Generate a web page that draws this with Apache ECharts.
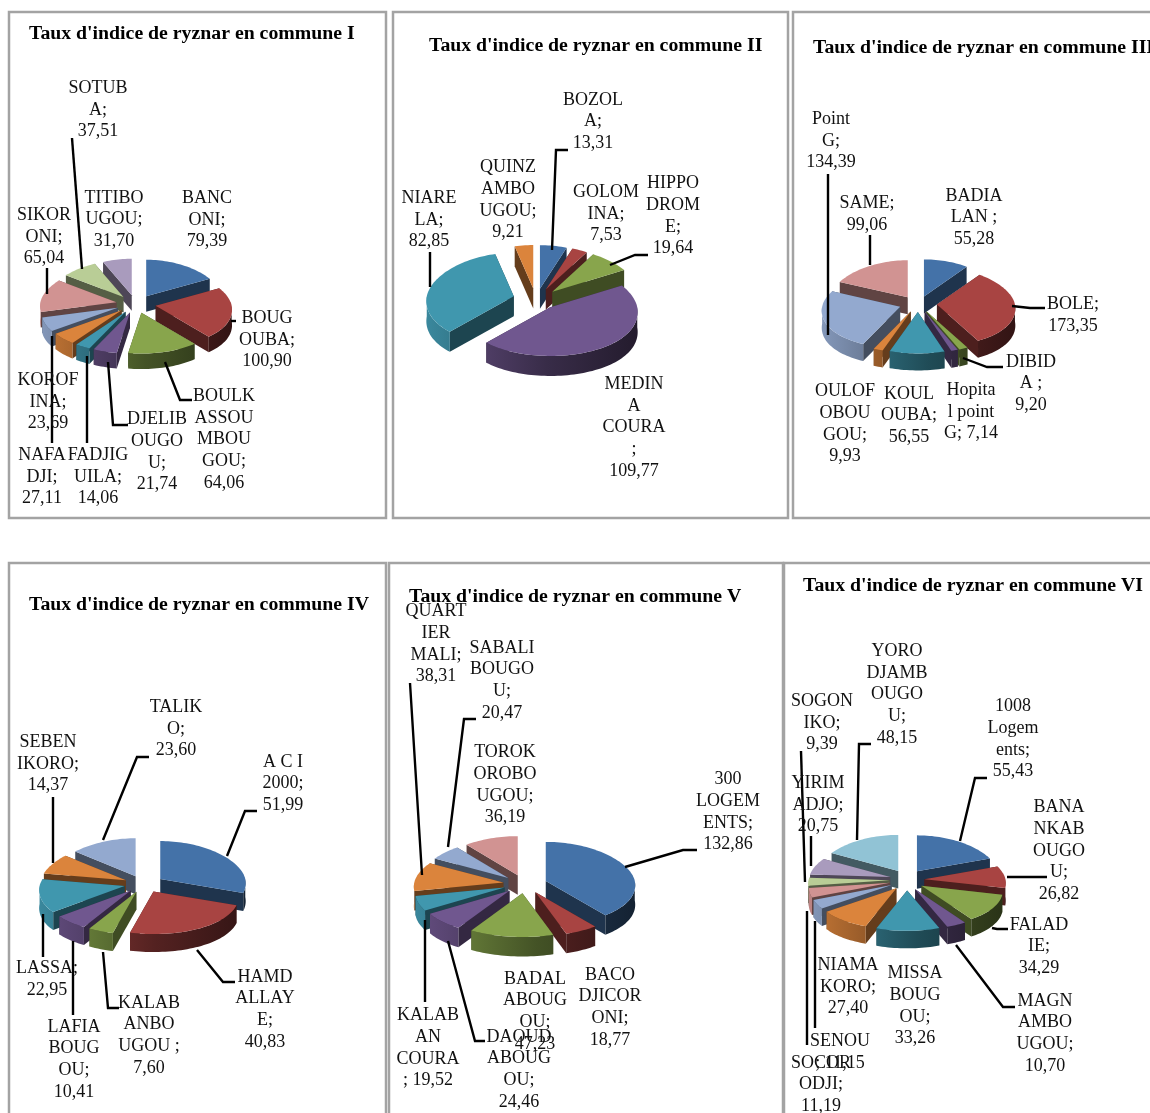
<!DOCTYPE html>
<html>
<head>
<meta charset="utf-8">
<style>html,body{margin:0;padding:0;background:#fff}#chart{width:1150px;height:1113px}</style>
<script src="https://cdn.jsdelivr.net/npm/echarts@6/dist/echarts.min.js"></script>
</head>
<body>
<div id="chart"></div>
<script>
// Ryznar index by neighbourhood, one exploded pseudo-3D pie per commune.
const communeITitle = "Taux d'indice de ryznar en commune I";
const communeIValues = [79.39, 100.90, 64.06, 21.74, 14.06, 23.69, 27.11, 65.04, 37.51, 31.70];
const communeILabels = ["BANC\nONI;\n", "BOUG\nOUBA;\n", "BOULK\nASSOU\nMBOU\nGOU;\n", "DJELIB\nOUGO\nU;\n", "FADJIG\nUILA;\n", "KOROF\nINA;\n", "NAFA\nDJI;\n", "SIKOR\nONI;\n", "SOTUB\nA;\n", "TITIBO\nUGOU;\n"];

const communeIITitle = "Taux d'indice de ryznar en commune II";
const communeIIValues = [13.31, 7.53, 19.64, 109.77, 82.85, 9.21];
const communeIILabels = ["BOZOL\nA;\n", "GOLOM\nINA;\n", "HIPPO\nDROM\nE;\n", "MEDIN\nA\nCOURA\n;\n", "NIARE\nLA;\n", "QUINZ\nAMBO\nUGOU;\n"];

const communeIIITitle = "Taux d'indice de ryznar en commune III";
const communeIIIValues = [55.28, 173.35, 9.20, 7.14, 56.55, 9.93, 134.39, 99.06];
const communeIIILabels = ["BADIA\nLAN ;\n", "BOLE;\n", "DIBID\nA ;\n", "Hopita\nl point\nG; ", "KOUL\nOUBA;\n", "OULOF\nOBOU\nGOU;\n", "Point\nG;\n", "SAME;\n"];

const communeIVTitle = "Taux d'indice de ryznar en commune IV";
const communeIVValues = [51.99, 40.83, 7.60, 10.41, 22.95, 14.37, 23.60];
const communeIVLabels = ["A C I\n2000;\n", "HAMD\nALLAY\nE;\n", "KALAB\nANBO\nUGOU ;\n", "LAFIA\nBOUG\nOU;\n", "LASSA;\n", "SEBEN\nIKORO;\n", "TALIK\nO;\n"];

const communeVTitle = "Taux d'indice de ryznar en commune V";
const communeVValues = [132.86, 18.77, 47.23, 24.46, 19.52, 38.31, 20.47, 36.19];
const communeVLabels = ["300\nLOGEM\nENTS;\n", "BACO\nDJICOR\nONI;\n", "BADAL\nABOUG\nOU;\n", "DAOUD\nABOUG\nOU;\n", "KALAB\nAN\nCOURA\n; ", "QUART\nIER\nMALI;\n", "SABALI\nBOUGO\nU;\n", "TOROK\nOROBO\nUGOU;\n"];

const communeVITitle = "Taux d'indice de ryznar en commune VI";
const communeVIValues = [55.43, 26.82, 34.29, 10.70, 33.26, 27.40, 11.15, 11.19, 9.39, 20.75, 48.15];
const communeVILabels = ["1008\nLogem\nents;\n", "BANA\nNKAB\nOUGO\nU;\n", "FALAD\nIE;\n", "MAGN\nAMBO\nUGOU;\n", "MISSA\nBOUG\nOU;\n", "NIAMA\nKORO;\n", "SENOU\n; ", "SOCOR\nODJI;\n", "SOGON\nIKO;\n", "YIRIM\nADJO;\n", "YORO\nDJAMB\nOUGO\nU;\n"];

const palette = ['#4472a8', '#a84442', '#88a54c', '#70578f', '#4097ae', '#db843c', '#93a9cf', '#d19392', '#b9cd96', '#a99bbd', '#91c3d5'];

// Placement of each pie: centre, radii, wall depth, slice offset, panel frame, title anchor,
// label centres and leader polylines (keyed by slice index).
const pies = [
  { title: communeITitle, values: communeIValues, labels: communeILabels,
    cx: 136, cy: 304, rx: 76, ry: 36.5, depth: 15.5, ex: 20, ey: 9,
    frame: [9, 12, 377, 506], titleAt: [29, 33],
    spots: [[207,220],[267,340],[224,439.5],[157,452],[98,477],[48,402],[42,477],[44,237],[98,110],[114,219.5]],
    leaders: { 1: [[231,321],[236,321]], 2: [[165,362],[180,400],[192,400]], 3: [[108,362],[113,425],[128,425]],
               4: [[87,356],[87,443]], 6: [[52,336],[52,443]], 7: [[47,268],[47,294]], 8: [[72,138],[82,269]] } },
  { title: communeIITitle, values: communeIIValues, labels: communeIILabels,
    cx: 536, cy: 299, rx: 87, ry: 43.5, depth: 20, ex: 23, ey: 10.5,
    frame: [393, 12, 395, 506], titleAt: [429, 45],
    spots: [[593,121.5],[606,214],[673,216],[634,427.5],[429,220],[508,200]],
    leaders: { 0: [[552,250],[556,150],[568,150]], 2: [[610,265],[635,255],[648,255]], 4: [[430,252],[430,287]] } },
  { title: communeIIITitle, values: communeIIIValues, labels: communeIIILabels,
    cx: 918, cy: 304, rx: 78, ry: 37, depth: 17, ex: 19, ey: 8,
    frame: [793, 12, 370, 506], titleAt: [813, 47],
    spots: [[974,217.5],[1073,315],[1031,383.5],[971,412],[909,415.5],[845,424],[831,141],[867,214.5]],
    leaders: { 1: [[1012,306],[1030,308],[1045,308]], 2: [[963,358],[987,367],[1003,367]],
               6: [[828,174],[828,335]], 7: [[870,235],[870,265]] } },
  { title: communeIVTitle, values: communeIVValues, labels: communeIVLabels,
    cx: 144, cy: 884, rx: 85, ry: 38, depth: 18, ex: 20, ey: 8.5,
    frame: [9, 563, 377, 570], titleAt: [29, 604],
    spots: [[283,783.5],[265,1009.5],[149,1035.5],[74,1059.5],[47,979],[48,764],[176,729]],
    leaders: { 0: [[227,856],[245,811],[257,811]], 1: [[197,950],[223,982],[235,982]], 2: [[103,952],[108,1008],[119,1008]],
               3: [[73,941],[73,1015]], 4: [[43,914],[43,957]], 5: [[53,797],[53,863]], 6: [[103,840],[137,757],[149,757]] } },
  { title: communeVTitle, values: communeVValues, labels: communeVLabels,
    cx: 525, cy: 884, rx: 89, ry: 39, depth: 19.5, ex: 22, ey: 9.4,
    frame: [389, 563, 394, 570], titleAt: [409, 596],
    spots: [[728,812],[610,1007.5],[535,1011.5],[519,1069.5],[428,1048],[436,644],[502,680.5],[505,785]],
    leaders: { 0: [[625,867],[683,850],[697,850]], 3: [[448,941],[475,1041],[485,1041]], 4: [[425,920],[425,1002]],
               5: [[410,683],[422,875]], 6: [[476,719],[464,719],[448,847]] } },
  { title: communeVITitle, values: communeVIValues, labels: communeVILabels,
    cx: 907, cy: 880, rx: 81, ry: 36, depth: 17.5, ex: 17.5, ey: 10.5,
    frame: [784, 563, 380, 570], titleAt: [803, 585],
    spots: [[1013,739],[1059,851],[1039,946.5],[1045,1033.5],[915,1006],[848,987],[840,1052],[821,1084.5],[822,723],[818,805],[897,694.5]],
    leaders: { 0: [[960,841],[975,778],[987,778]], 1: [[1007,877],[1047,877]], 2: [[992,928],[997,929],[1008,929]],
               3: [[956,945],[1003,1007],[1015,1007]], 6: [[815,921],[815,1028]], 7: [[807,911],[807,1045]],
               8: [[801,751],[805,882]], 9: [[811,836],[811,866]], 10: [[857,840],[859,744],[871,744]] } }
];

const LABEL_FONT = '"Liberation Serif", serif';
const rad = d => d * Math.PI / 180;
const formatValue = v => v.toFixed(2).replace('.', ',');

function shade(hex, f) {
  const n = parseInt(hex.slice(1), 16);
  const c = s => Math.round(((n >> s) & 255) * f);
  return 'rgb(' + c(16) + ',' + c(8) + ',' + c(0) + ')';
}

// Slices run clockwise from twelve o'clock; each one is pushed out along its mid-angle.
function sliceGeometry(pie) {
  const total = pie.values.reduce((a, b) => a + b, 0);
  let acc = 0;
  const slices = pie.values.map(v => {
    const a0 = acc / total * 360;
    acc += v;
    const a1 = acc / total * 360;
    const mid = rad((a0 + a1) / 2);
    const ax = pie.cx + pie.ex * Math.sin(mid);
    const ay = pie.cy - pie.ey * Math.cos(mid);
    return { a0, a1, ax, ay, sortY: ay - 0.5 * pie.ry * Math.cos(mid) };
  });
  // Farther slices paint first so nearer walls cover them.
  slices.map((s, i) => i).sort((p, q) => slices[p].sortY - slices[q].sortY)
    .forEach((i, rank) => { slices[i].rank = rank; });
  return slices;
}

// Rim of the tilted disc, with the near side drawn a little larger than the far side.
function rimPoint(pie, s, deg) {
  const sin = Math.sin(rad(deg)), cos = Math.cos(rad(deg));
  return [s.ax + pie.rx * sin * (1 - 0.1 * cos), s.ay - pie.ry * cos * (cos < 0 ? 1.12 : 1)];
}

function arcPoints(pie, s, from, to) {
  const pts = [];
  const steps = Math.max(2, Math.ceil((to - from) / 2));
  for (let i = 0; i <= steps; i++) pts.push(rimPoint(pie, s, from + (to - from) * i / steps));
  return pts;
}

function buildRenderItem(pie, slices) {
  return function (params) {
    const i = params.dataIndex;
    const s = slices[i];
    const color = palette[i % palette.length];
    const base = s.rank * 4 + 1;
    const children = [];

    // Cut faces hanging below both radial edges.
    [s.a0, s.a1].forEach(deg => {
      const r = rimPoint(pie, s, deg);
      children.push({
        type: 'polygon', z2: base,
        shape: { points: [[s.ax, s.ay], r, [r[0], r[1] + pie.depth], [s.ax, s.ay + pie.depth]] },
        style: { fill: shade(color, 0.46) }
      });
    });

    // Curved wall: only the part of the rim that faces the viewer.
    const from = Math.max(s.a0, 90), to = Math.min(s.a1, 270);
    if (to > from) {
      const top = arcPoints(pie, s, from, to);
      const bottom = top.map(p => [p[0], p[1] + pie.depth]).reverse();
      children.push({
        type: 'polygon', z2: base + 1,
        shape: { points: top.concat(bottom) },
        style: {
          fill: new echarts.graphic.LinearGradient(pie.cx - pie.rx - pie.ex, 0, pie.cx + pie.rx + pie.ex, 0, [
            { offset: 0, color: shade(color, 0.9) },
            { offset: 0.55, color: shade(color, 0.5) },
            { offset: 1, color: shade(color, 0.3) }
          ], true)
        }
      });
    }

    // Top face.
    children.push({
      type: 'polygon', z2: base + 2,
      shape: { points: [[s.ax, s.ay]].concat(arcPoints(pie, s, s.a0, s.a1)) },
      style: { fill: color }
    });

    const leader = pie.leaders[i];
    if (leader) {
      children.push({
        type: 'polyline', z2: 900,
        shape: { points: leader },
        style: { fill: null, stroke: '#000', lineWidth: 2.4 }
      });
    }

    children.push({
      type: 'text', z2: 1000,
      style: {
        x: pie.spots[i][0], y: pie.spots[i][1],
        text: pie.labels[i] + formatValue(pie.values[i]),
        textAlign: 'center', textVerticalAlign: 'middle',
        fontFamily: LABEL_FONT, fontSize: 18, lineHeight: 21.7, fill: '#111'
      }
    });
    return { type: 'group', children };
  };
}

const chart = echarts.init(document.getElementById('chart'), null, { renderer: 'canvas' });
chart.setOption({
  animation: false,
  backgroundColor: '#fff',
  title: pies.map(p => ({
    text: p.title,
    left: p.titleAt[0],
    top: p.titleAt[1] - 10,
    padding: 0,
    textStyle: { fontFamily: LABEL_FONT, fontWeight: 'bold', fontSize: 19.8, color: '#000', lineHeight: 22 }
  })),
  graphic: pies.map(p => ({
    type: 'rect', silent: true, z: 0,
    shape: { x: p.frame[0], y: p.frame[1], width: p.frame[2], height: p.frame[3] },
    style: { fill: 'transparent', stroke: '#a3a3a3', lineWidth: 2.5 }
  })),
  series: pies.map(p => ({
    type: 'custom',
    coordinateSystem: 'none',
    silent: true,
    data: p.values.map(v => [v]),
    renderItem: buildRenderItem(p, sliceGeometry(p))
  }))
});
</script>
</body>
</html>
